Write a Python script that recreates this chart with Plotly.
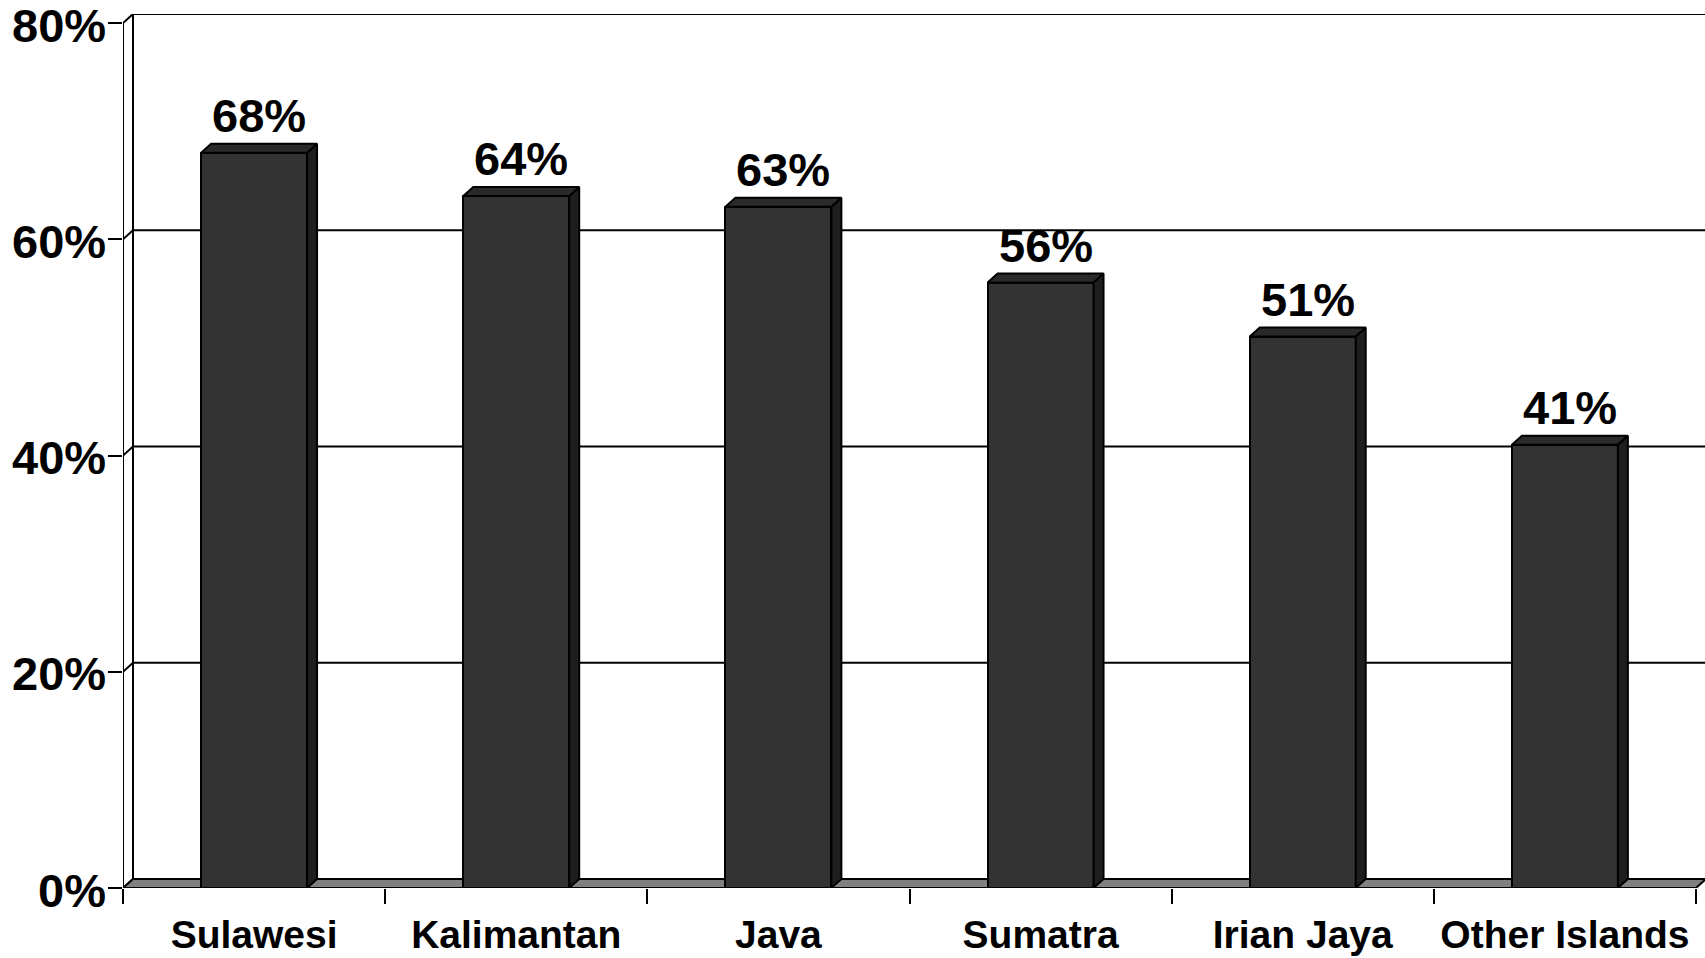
import plotly.graph_objects as go

# Share of households by island group
categories = ["Sulawesi", "Kalimantan", "Java", "Sumatra", "Irian Jaya", "Other Islands"]
values = [68, 64, 63, 56, 51, 41]
y_ticks = [0, 20, 40, 60, 80]
y_tick_labels = [f"{v}%" for v in y_ticks]

# ---- page geometry (pixels) ----
W, H = 1705, 958
ML, MR, MT, MB = 123, 0, 14, 70
FRONT_RIGHT_PX = 1696          # right end of the front floor edge
FRONT_TOP_PX = 23              # pixel row of the top tick on the front edge
DEPTH_X_PX, DEPTH_Y_PX = 10, 9  # 3-D depth offset of the back wall
BAR_W = 0.404                  # bar width in category units
Y_TICKLEN = 14

plot_w = W - ML - MR
plot_h = H - MT - MB
n = len(categories)
px_per_cat = (FRONT_RIGHT_PX - ML) / n
px_per_unit = (H - MB - FRONT_TOP_PX) / y_ticks[-1]
dx = DEPTH_X_PX / px_per_cat
dy = DEPTH_Y_PX / px_per_unit
x0, x1 = -0.5, n - 0.5
x_range = [x0, x0 + plot_w / px_per_cat]
y_range = [0, plot_h / px_per_unit]
ymax = y_ticks[-1]

LINE = dict(color="black", width=2)
FONT = "Liberation Sans, Arial, sans-serif"

fig = go.Figure()
shapes = []

# back wall: left/back edges, top edge, gridlines and left-wall diagonals
shapes.append(dict(type="line", x0=x0, y0=0, x1=x0, y1=ymax, line=LINE))
shapes.append(dict(type="line", x0=x0 + dx, y0=dy, x1=x0 + dx, y1=ymax + dy, line=LINE))
for v in y_ticks:
    shapes.append(dict(type="line", x0=x0, y0=v, x1=x0 + dx, y1=v + dy, line=LINE))
    if v > 0:
        shapes.append(dict(type="line", x0=x0 + dx, y0=v + dy, x1=x_range[1], y1=v + dy, line=LINE))

# floor
shapes.append(dict(
    type="path",
    path=f"M {x0},0 L {x1},0 L {x1 + dx},{dy} L {x0 + dx},{dy} Z",
    fillcolor="#808080", line=LINE,
))
for s in shapes:
    s.update(xref="x", yref="y", layer="below")

# bar front faces
xs = list(range(n))
fig.add_trace(go.Bar(
    x=xs, y=values, width=BAR_W,
    marker=dict(color="#333333", line=LINE),
    hoverinfo="skip", showlegend=False,
))

# bar side and top faces
for i, v in zip(xs, values):
    l, r = i - BAR_W / 2, i + BAR_W / 2
    fig.add_trace(go.Scatter(
        x=[r, r + dx, r + dx, r, r], y=[0, dy, v + dy, v, 0],
        fill="toself", fillcolor="#1e1e1e", mode="lines", line=LINE,
        hoverinfo="skip", showlegend=False,
    ))
    fig.add_trace(go.Scatter(
        x=[l, l + dx, r + dx, r, l], y=[v, v + dy, v + dy, v, v],
        fill="toself", fillcolor="#2a2a2a", mode="lines", line=LINE,
        hoverinfo="skip", showlegend=False,
    ))

# value labels above the bars
annotations = [
    dict(x=i + dx / 2, y=v + dy, text=f"{v}%", showarrow=False,
         xref="x", yref="y", yanchor="bottom", yshift=0,
         font=dict(family=FONT, size=47, color="black", weight="bold"))
    for i, v in zip(xs, values)
]

# y-axis tick labels, set just left of the tick marks
annotations += [
    dict(x=0, y=v, text=t, showarrow=False, xref="paper", yref="y",
         xanchor="right", yanchor="middle", xshift=-(Y_TICKLEN + 2), yshift=-2,
         borderpad=0,
         font=dict(family=FONT, size=47, color="black", weight="bold"))
    for v, t in zip(y_ticks, y_tick_labels)
]

fig.update_layout(
    width=W, height=H,
    margin=dict(l=ML, r=MR, t=MT, b=MB, pad=0, autoexpand=False),
    paper_bgcolor="white", plot_bgcolor="rgba(0,0,0,0)",
    shapes=shapes, annotations=annotations,
    bargap=0,
    xaxis=dict(
        range=x_range, showgrid=False, zeroline=False, showline=False,
        automargin=False,
        tickmode="array", tickvals=xs, ticktext=categories, ticks="",
        ticklabelstandoff=20,
        tickfont=dict(family=FONT, size=39, color="black", weight="bold"),
        minor=dict(tickmode="array", tickvals=[i - 0.5 for i in range(n + 1)],
                   ticks="outside", ticklen=15, tickwidth=2, tickcolor="black",
                   showgrid=False),
    ),
    yaxis=dict(
        range=y_range, showgrid=False, zeroline=False, showline=False,
        automargin=False,
        tickmode="array", tickvals=y_ticks, showticklabels=False,
        ticks="outside", ticklen=Y_TICKLEN, tickwidth=2, tickcolor="black",
    ),
)

fig.write_html("out.html")
